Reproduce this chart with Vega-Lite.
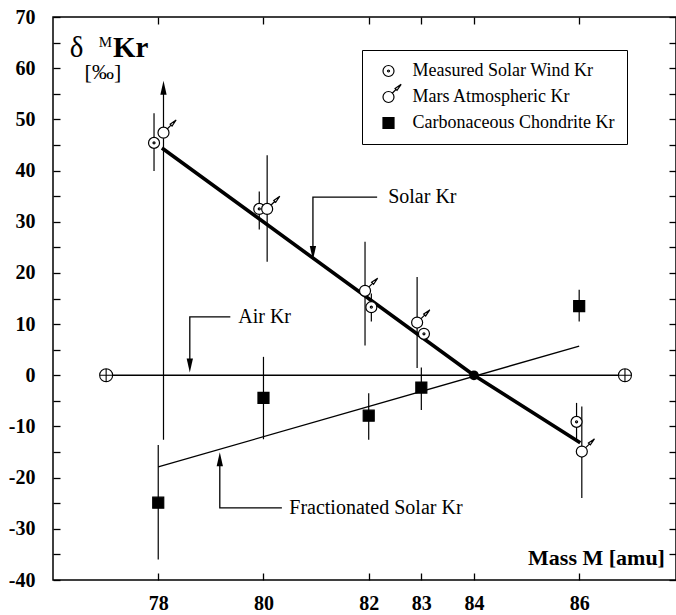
{
  "$schema": "https://vega.github.io/schema/vega-lite/v6.json",
  "width": 623,
  "height": 563,
  "autosize": {"type": "none"},
  "padding": {"left": 53, "top": 17, "right": 0, "bottom": 35},
  "background": "white",
  "config": {
    "font": "Liberation Serif",
    "view": {"stroke": "black", "strokeWidth": 1.5},
    "axis": {
      "grid": false, "domain": false, "tickColor": "black", "tickWidth": 1.3, "tickSize": 7, "offset": -7,
      "labelFont": "Liberation Serif", "labelFontWeight": "bold", "labelFontSize": 20, "labelColor": "black",
      "labelFlush": false, "labelOverlap": false
    },
    "legend": {
      "orient": "none", "legendX": 309, "legendY": 33, "padding": 12, "strokeColor": "black",
      "labelFont": "Liberation Serif", "labelFontSize": 18, "labelColor": "black", "labelLimit": 400,
      "symbolSize": 121, "symbolOffset": 5.5, "labelOffset": 15, "rowPadding": 1,
      "symbolStrokeColor": "black", "symbolStrokeWidth": 1.2
    }
  },
  "datasets": {
    "pts": [
      {"series": "Measured Solar Wind Kr", "x": 77.92, "y": 45.4, "lo": 39.9, "hi": 51.2},
      {"series": "Measured Solar Wind Kr", "x": 79.92, "y": 32.5, "lo": 28.5, "hi": 35.9},
      {"series": "Measured Solar Wind Kr", "x": 82.05, "y": 13.3, "lo": 10.5, "hi": 16.0},
      {"series": "Measured Solar Wind Kr", "x": 83.05, "y": 8.1, "lo": null, "hi": null},
      {"series": "Measured Solar Wind Kr", "x": 85.95, "y": -9.1, "lo": -13.0, "hi": -5.4},
      {"series": "Mars Atmospheric Kr", "x": 78.10, "y": 47.4, "lo": -12.6, "hi": 56.0},
      {"series": "Mars Atmospheric Kr", "x": 80.07, "y": 32.5, "lo": 22.2, "hi": 43.0},
      {"series": "Mars Atmospheric Kr", "x": 81.93, "y": 16.5, "lo": 5.8, "hi": 26.1},
      {"series": "Mars Atmospheric Kr", "x": 82.92, "y": 10.3, "lo": 1.4, "hi": 19.2},
      {"series": "Mars Atmospheric Kr", "x": 86.05, "y": -14.9, "lo": -24.0, "hi": -6.1},
      {"series": "Carbonaceous Chondrite Kr", "x": 78, "y": -24.9, "lo": -36.0, "hi": -13.6},
      {"series": "Carbonaceous Chondrite Kr", "x": 80, "y": -4.4, "lo": -12.5, "hi": 3.6},
      {"series": "Carbonaceous Chondrite Kr", "x": 82, "y": -7.9, "lo": -12.6, "hi": -3.5},
      {"series": "Carbonaceous Chondrite Kr", "x": 83, "y": -2.4, "lo": -6.8, "hi": 1.5},
      {"series": "Carbonaceous Chondrite Kr", "x": 86, "y": 13.5, "lo": 10.5, "hi": 16.7}
    ],
    "lines": [
      {"name": "solar", "i": 0, "x": 78.07, "y": 44.4},
      {"name": "solar", "i": 1, "x": 84, "y": 0},
      {"name": "solar", "i": 2, "x": 86.02, "y": -13.2},
      {"name": "frac", "i": 0, "x": 78.0, "y": -17.9},
      {"name": "frac", "i": 1, "x": 86.0, "y": 5.7},
      {"name": "air", "i": 0, "x": 77.01, "y": 0},
      {"name": "air", "i": 1, "x": 86.87, "y": 0},
      {"name": "lead_solar", "i": 0, "x": 82.16, "y": 34.8},
      {"name": "lead_solar", "i": 1, "x": 80.94, "y": 34.8},
      {"name": "lead_solar", "i": 2, "x": 80.94, "y": 23.9},
      {"name": "lead_air", "i": 0, "x": 79.37, "y": 11.4},
      {"name": "lead_air", "i": 1, "x": 78.60, "y": 11.4},
      {"name": "lead_air", "i": 2, "x": 78.60, "y": 1.9},
      {"name": "lead_frac", "i": 0, "x": 80.35, "y": -25.9},
      {"name": "lead_frac", "i": 1, "x": 79.17, "y": -25.9},
      {"name": "lead_frac", "i": 2, "x": 79.17, "y": -16.4}
    ],
    "arrows": [
      {"dir": "down", "x": 80.94, "y": 23.9},
      {"dir": "down", "x": 78.60, "y": 1.9},
      {"dir": "up", "x": 79.17, "y": -16.4},
      {"dir": "up", "x": 78.10, "y": 56.2}
    ],
    "air": [
      {"x": 77.01, "y": 0},
      {"x": 86.87, "y": 0}
    ],
    "ref": [
      {"x": 84, "y": 0}
    ],
    "annot": [
      {"text": "Solar Kr", "x": 82.37, "y": 34.8},
      {"text": "Air Kr", "x": 79.52, "y": 11.4},
      {"text": "Fractionated Solar Kr", "x": 80.49, "y": -25.9}
    ]
  },
  "resolve": {"axis": {"x": "independent", "y": "independent"}},
  "layer": [
    {
      "data": {"name": "pts"},
      "transform": [{"filter": "isValid(datum.lo)"}],
      "mark": {"type": "rule", "color": "black", "strokeWidth": 1.2},
      "encoding": {
        "x": {"field": "x", "type": "quantitative", "scale": {"domain": [76, 87.84], "nice": false, "zero": false},
          "axis": {"orient": "bottom", "values": [78, 80, 82, 83, 84, 86], "labelPadding": 13, "title": null}},
        "y": {"field": "lo", "type": "quantitative", "scale": {"domain": [-40, 70], "nice": false, "zero": false},
          "axis": {"orient": "left", "values": [-40, -35, -30, -25, -20, -15, -10, -5, 0, 5, 10, 15, 20, 25, 30, 35, 40, 45, 50, 55, 60, 65, 70],
            "labelExpr": "datum.value % 10 === 0 ? '' + datum.value : ''", "labelPadding": 18, "title": null}},
        "y2": {"field": "hi"}
      }
    },
    {
      "data": {"name": "lines"},
      "transform": [{"filter": "datum.name !== 'solar'"}],
      "mark": {"type": "line", "color": "black", "strokeWidth": 1.3},
      "encoding": {
        "x": {"field": "x", "type": "quantitative", "scale": {"domain": [76, 87.84], "nice": false, "zero": false},
          "axis": {"orient": "top", "values": [78, 80, 82, 83, 84, 86], "labels": false, "title": null}},
        "y": {"field": "y", "type": "quantitative", "scale": {"domain": [-40, 70], "nice": false, "zero": false},
          "axis": {"orient": "right", "values": [-40, -35, -30, -25, -20, -15, -10, -5, 0, 5, 10, 15, 20, 25, 30, 35, 40, 45, 50, 55, 60, 65, 70], "labels": false, "title": null}},
        "detail": {"field": "name"},
        "order": {"field": "i"}
      }
    },
    {
      "data": {"name": "lines"},
      "transform": [{"filter": "datum.name === 'solar'"}],
      "mark": {"type": "line", "color": "black", "strokeWidth": 3.6},
      "encoding": {
        "x": {"field": "x", "type": "quantitative", "scale": {"domain": [76, 87.84], "nice": false, "zero": false}, "axis": null},
        "y": {"field": "y", "type": "quantitative", "scale": {"domain": [-40, 70], "nice": false, "zero": false}, "axis": null},
        "order": {"field": "i"}
      }
    },
    {
      "data": {"name": "arrows"},
      "transform": [{"filter": "datum.dir === 'down'"}],
      "mark": {"type": "point", "filled": true, "color": "black", "size": 196, "opacity": 1, "shape": "M0,1L-0.45,-1L0.45,-1Z"},
      "encoding": {
        "x": {"field": "x", "type": "quantitative", "scale": {"domain": [76, 87.84], "nice": false, "zero": false}, "axis": null},
        "y": {"field": "y", "type": "quantitative", "scale": {"domain": [-40, 70], "nice": false, "zero": false}, "axis": null}
      }
    },
    {
      "data": {"name": "arrows"},
      "transform": [{"filter": "datum.dir === 'up'"}],
      "mark": {"type": "point", "filled": true, "color": "black", "size": 196, "opacity": 1, "shape": "M0,-1L-0.45,1L0.45,1Z"},
      "encoding": {
        "x": {"field": "x", "type": "quantitative", "scale": {"domain": [76, 87.84], "nice": false, "zero": false}, "axis": null},
        "y": {"field": "y", "type": "quantitative", "scale": {"domain": [-40, 70], "nice": false, "zero": false}, "axis": null}
      }
    },
    {
      "data": {"name": "air"},
      "mark": {"type": "point", "filled": true, "fill": "white", "stroke": "black", "strokeWidth": 1.1, "size": 169, "opacity": 1,
        "shape": "M-1,0A1,1 0 1,0 1,0A1,1 0 1,0 -1,0Z M-1,0L1,0 M0,-1L0,1"},
      "encoding": {
        "x": {"field": "x", "type": "quantitative", "scale": {"domain": [76, 87.84], "nice": false, "zero": false}, "axis": null},
        "y": {"field": "y", "type": "quantitative", "scale": {"domain": [-40, 70], "nice": false, "zero": false}, "axis": null}
      }
    },
    {
      "data": {"name": "ref"},
      "mark": {"type": "circle", "color": "black", "size": 95, "opacity": 1},
      "encoding": {
        "x": {"field": "x", "type": "quantitative", "scale": {"domain": [76, 87.84], "nice": false, "zero": false}, "axis": null},
        "y": {"field": "y", "type": "quantitative", "scale": {"domain": [-40, 70], "nice": false, "zero": false}, "axis": null}
      }
    },
    {
      "data": {"name": "pts"},
      "mark": {"type": "point", "filled": true, "strokeWidth": 1.2, "size": 121, "opacity": 1},
      "encoding": {
        "x": {"field": "x", "type": "quantitative", "scale": {"domain": [76, 87.84], "nice": false, "zero": false}, "axis": null},
        "y": {"field": "y", "type": "quantitative", "scale": {"domain": [-40, 70], "nice": false, "zero": false}, "axis": null},
        "shape": {"field": "series", "type": "nominal",
          "scale": {"domain": ["Measured Solar Wind Kr", "Mars Atmospheric Kr", "Carbonaceous Chondrite Kr"],
            "range": ["M-1,0A1,1 0 1,0 1,0A1,1 0 1,0 -1,0Z M-0.18,0A0.18,0.18 0 1,0 0.18,0A0.18,0.18 0 1,0 -0.18,0Z",
                      "M-1,0A1,1 0 1,0 1,0A1,1 0 1,0 -1,0Z M0.72,-0.72L1.45,-1.45 M1.2,-1.55L2.3,-2.3L1.55,-1.2Z M0,2.3",
                      "square"]},
          "legend": {"title": null}},
        "fill": {"field": "series", "type": "nominal",
          "scale": {"domain": ["Measured Solar Wind Kr", "Mars Atmospheric Kr", "Carbonaceous Chondrite Kr"],
            "range": ["white", "white", "black"]},
          "legend": {"title": null}},
        "stroke": {"field": "series", "type": "nominal",
          "scale": {"domain": ["Measured Solar Wind Kr", "Mars Atmospheric Kr", "Carbonaceous Chondrite Kr"],
            "range": ["black", "black", "black"]},
          "legend": {"title": null}}
      }
    },
    {
      "data": {"name": "annot"},
      "mark": {"type": "text", "align": "left", "baseline": "middle", "fontSize": 20, "color": "black", "font": "Liberation Serif"},
      "encoding": {
        "x": {"field": "x", "type": "quantitative", "scale": {"domain": [76, 87.84], "nice": false, "zero": false}, "axis": null},
        "y": {"field": "y", "type": "quantitative", "scale": {"domain": [-40, 70], "nice": false, "zero": false}, "axis": null},
        "text": {"field": "text"}
      }
    },
    {
      "data": {"values": [{"text": "δ", "x": 76.32, "y": 62.2}]},
      "mark": {"type": "text", "align": "left", "baseline": "alphabetic", "fontSize": 29, "color": "black", "font": "Liberation Serif"},
      "encoding": {
        "x": {"field": "x", "type": "quantitative", "scale": {"domain": [76, 87.84], "nice": false, "zero": false}, "axis": null},
        "y": {"field": "y", "type": "quantitative", "scale": {"domain": [-40, 70], "nice": false, "zero": false}, "axis": null},
        "text": {"field": "text"}
      }
    },
    {
      "data": {"values": [{"text": "M", "x": 76.87, "y": 64.1}]},
      "mark": {"type": "text", "align": "left", "baseline": "alphabetic", "fontSize": 15, "color": "black", "font": "Liberation Serif"},
      "encoding": {
        "x": {"field": "x", "type": "quantitative", "scale": {"domain": [76, 87.84], "nice": false, "zero": false}, "axis": null},
        "y": {"field": "y", "type": "quantitative", "scale": {"domain": [-40, 70], "nice": false, "zero": false}, "axis": null},
        "text": {"field": "text"}
      }
    },
    {
      "data": {"values": [{"text": "Kr", "x": 77.14, "y": 62.2}]},
      "mark": {"type": "text", "align": "left", "baseline": "alphabetic", "fontSize": 29, "fontWeight": "bold", "color": "black", "font": "Liberation Serif"},
      "encoding": {
        "x": {"field": "x", "type": "quantitative", "scale": {"domain": [76, 87.84], "nice": false, "zero": false}, "axis": null},
        "y": {"field": "y", "type": "quantitative", "scale": {"domain": [-40, 70], "nice": false, "zero": false}, "axis": null},
        "text": {"field": "text"}
      }
    },
    {
      "data": {"values": [{"text": "[‰]", "x": 76.6, "y": 57.8}]},
      "mark": {"type": "text", "align": "left", "baseline": "alphabetic", "fontSize": 22, "color": "black", "font": "Liberation Serif"},
      "encoding": {
        "x": {"field": "x", "type": "quantitative", "scale": {"domain": [76, 87.84], "nice": false, "zero": false}, "axis": null},
        "y": {"field": "y", "type": "quantitative", "scale": {"domain": [-40, 70], "nice": false, "zero": false}, "axis": null},
        "text": {"field": "text"}
      }
    },
    {
      "data": {"values": [{"text": "Mass M [amu]", "x": 87.63, "y": -37.1}]},
      "mark": {"type": "text", "align": "right", "baseline": "alphabetic", "fontSize": 22, "fontWeight": "bold", "color": "black", "font": "Liberation Serif"},
      "encoding": {
        "x": {"field": "x", "type": "quantitative", "scale": {"domain": [76, 87.84], "nice": false, "zero": false}, "axis": null},
        "y": {"field": "y", "type": "quantitative", "scale": {"domain": [-40, 70], "nice": false, "zero": false}, "axis": null},
        "text": {"field": "text"}
      }
    }
  ]
}
